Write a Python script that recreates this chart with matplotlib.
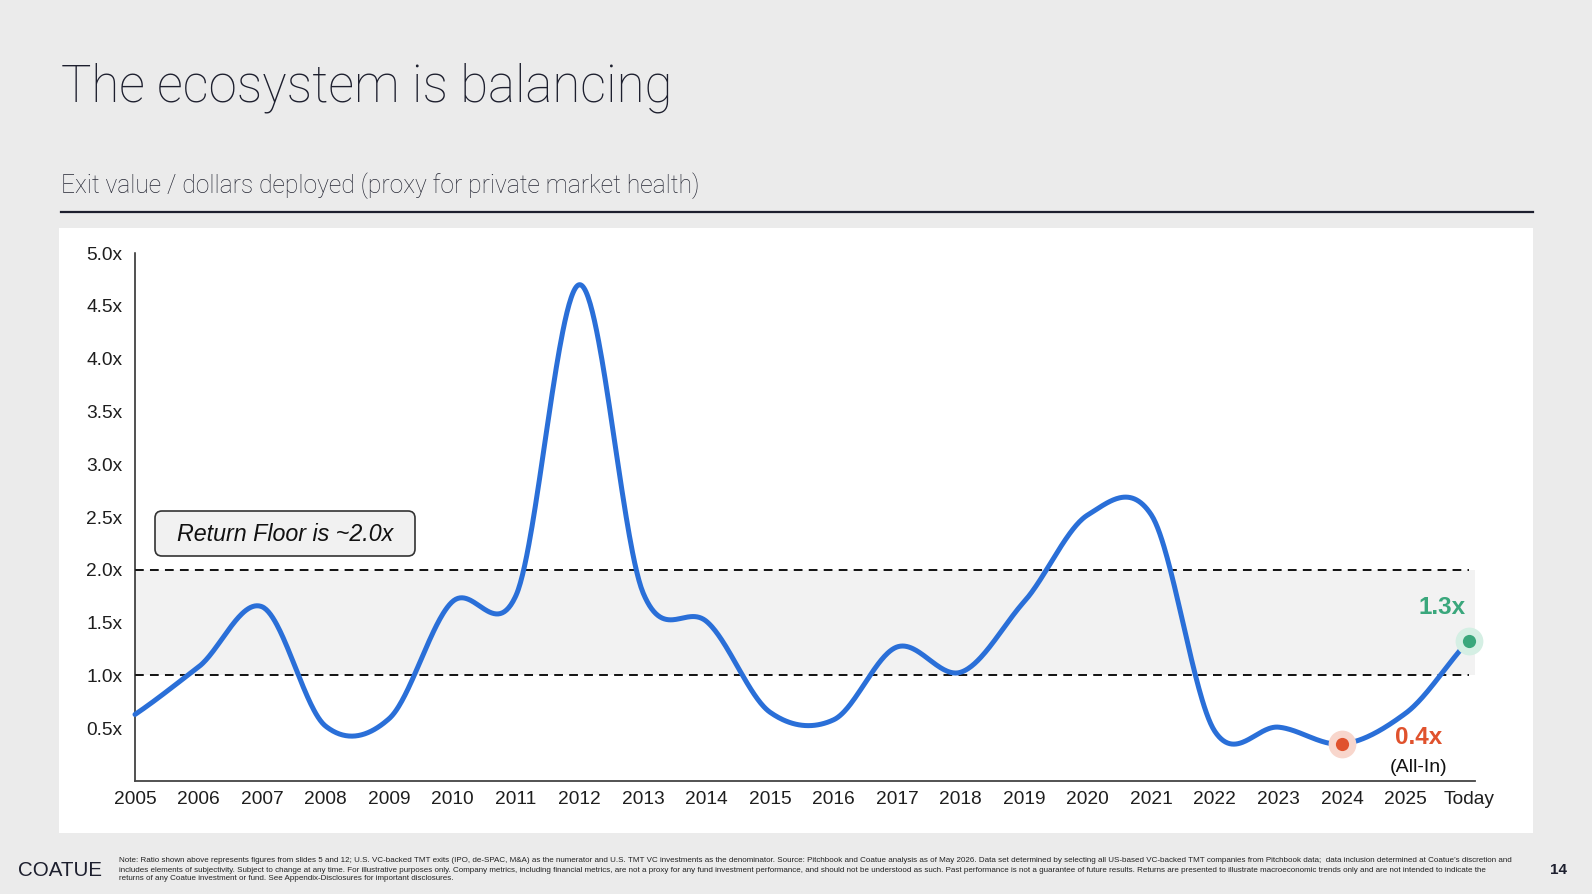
import matplotlib
matplotlib.use("Agg")
import matplotlib.pyplot as plt
import numpy as np
from matplotlib.patches import Rectangle, FancyBboxPatch
from matplotlib.lines import Line2D
from matplotlib.transforms import IdentityTransform
from matplotlib import font_manager as fm

# ---------------- data ----------------
labels = [str(y) for y in range(2005, 2026)] + ["Today"]
values = [0.63, 1.08, 1.65, 0.52, 0.59, 1.70, 1.76, 4.70, 1.78, 1.51, 0.65,
          0.58, 1.27, 1.03, 1.70, 2.52, 2.52, 0.47, 0.51, 0.35, 0.64, 1.33]
yticks = [0.5, 1.0, 1.5, 2.0, 2.5, 3.0, 3.5, 4.0, 4.5, 5.0]
ytick_labels = ["0.5x", "1.0x", "1.5x", "2.0x", "2.5x", "3.0x", "3.5x", "4.0x", "4.5x", "5.0x"]
floor_low, floor_high = 1.0, 2.0
low_idx, low_label = 19, "0.4x"
now_idx, now_label = 21, "1.3x"

W, H = 1592, 894
DPI = 100
BG = "#ebebeb"
BLUE = "#2a6fd8"
RED = "#e0522d"
GREEN = "#3aa77c"
NAVY = "#1d1f2e"

avail = {f.name for f in fm.fontManager.ttflist}
def pick(*names):
    for n in names:
        if n in avail:
            return n
    return "DejaVu Sans"

SANS = pick("Liberation Sans", "Arial", "DejaVu Sans")
TITLEF = pick("Roboto", "Inter", "Liberation Sans")
NARROW = pick("Liberation Sans Narrow", "Liberation Sans")

plt.rcParams["font.family"] = [SANS, "DejaVu Sans"]

fig = plt.figure(figsize=(W / DPI, H / DPI), dpi=DPI, facecolor=BG)
renderer = fig.canvas.get_renderer()

def fx(px):
    return px / W

def fy(py):
    return 1 - py / H

def fit_width(t, target):
    fs = t.get_fontsize()
    for _ in range(3):
        w = t.get_window_extent(renderer=renderer).width
        fs = fs * target / w
        t.set_fontsize(fs)

# white panel
fig.patches.append(Rectangle((fx(59), fy(833)), (1533 - 59) / W, (833 - 228) / H,
                             transform=fig.transFigure, facecolor="white",
                             edgecolor="none", zorder=-5))

# title / subtitle / rule
t = fig.text(fx(61), fy(101.5), "The ecosystem is balancing", fontsize=38,
             family=[TITLEF, "DejaVu Sans"], fontweight="light", color=NAVY,
             ha="left", va="baseline")
fit_width(t, 612)
t = fig.text(fx(61), fy(193), "Exit value / dollars deployed (proxy for private market health)",
             fontsize=17, family=[TITLEF, "DejaVu Sans"], fontweight="light",
             color="#262835", ha="left", va="baseline")
fit_width(t, 638)
fig.add_artist(Line2D([fx(61), fx(1533)], [fy(212), fy(212)], transform=fig.transFigure,
                      color=NAVY, linewidth=1.6))

# ---------------- axes ----------------
x0_px, unit_px = 135, 63.52
ax_bottom_px, ax_top_px = 781, 253
xmax = 21.1
ax = fig.add_axes([fx(x0_px), fy(ax_bottom_px), xmax * unit_px / W,
                   (ax_bottom_px - ax_top_px) / H])
ax.set_zorder(1)
ax.set_facecolor("none")
ax.set_xlim(0, xmax)
ax.set_ylim(0, 5)
for s in ["top", "right"]:
    ax.spines[s].set_visible(False)
ax.spines["left"].set_color("#222222")
ax.spines["bottom"].set_color("#444444")
ax.spines["left"].set_linewidth(1.1)
ax.spines["bottom"].set_linewidth(1.3)

xs = np.arange(len(values))
ax.set_xticks(xs)
ax.set_xticklabels(labels)
ax.set_yticks(yticks)
ax.set_yticklabels(ytick_labels)
ax.tick_params(axis="both", length=0, labelsize=13.8, colors="#1e1e1e")
ax.tick_params(axis="y", pad=9)
ax.tick_params(axis="x", pad=7)

# band and dashed floor lines
ax.fill_between([0, xmax], floor_low, floor_high, color="#f2f2f2", zorder=1, linewidth=0)
for yv in (floor_low, floor_high):
    ax.hlines(yv, 0, 21.0, colors="#111111", linestyles=(0, (4.5, 3.2)),
              linewidth=1.4, zorder=2)

# smoothed line (cardinal spline through yearly points)
def cardinal(xk, yk, k=0.45, n=60):
    yk = np.asarray(yk, float)
    m = np.zeros_like(yk)
    m[1:-1] = k * (yk[2:] - yk[:-2])
    m[0] = 2 * k * (yk[1] - yk[0])
    m[-1] = 2 * k * (yk[-1] - yk[-2])
    X, Y = [], []
    for i in range(len(yk) - 1):
        tt = np.linspace(0, 1, n, endpoint=False)
        h00 = 2 * tt**3 - 3 * tt**2 + 1
        h10 = tt**3 - 2 * tt**2 + tt
        h01 = -2 * tt**3 + 3 * tt**2
        h11 = tt**3 - tt**2
        X.append(xk[i] + tt * (xk[i + 1] - xk[i]))
        Y.append(h00 * yk[i] + h10 * m[i] + h01 * yk[i + 1] + h11 * m[i + 1])
    X.append([xk[-1]])
    Y.append([yk[-1]])
    return np.concatenate(X), np.concatenate(Y)

sx, sy = cardinal(xs, values)
ax.plot(sx, sy, color=BLUE, linewidth=3.6, solid_capstyle="round", zorder=4,
        clip_on=False)

# highlight markers
ax.plot(xs[low_idx], values[low_idx], "o", ms=20, color="#f8d6cc", mec="none", zorder=5,
        clip_on=False)
ax.plot(xs[low_idx], values[low_idx], "o", ms=9.5, color=RED, mec="none", zorder=6,
        clip_on=False)
ax.plot(xs[now_idx], values[now_idx], "o", ms=20, color="#d5efe4", mec="none", zorder=5,
        clip_on=False)
ax.plot(xs[now_idx], values[now_idx], "o", ms=9.5, color=GREEN, mec="none", zorder=6,
        clip_on=False)

ax.text(20.58, 1.64, now_label, color=GREEN, fontsize=17.5, fontweight="bold",
        ha="center", va="center", zorder=7)
ax.text(20.21, 0.41, low_label, color=RED, fontsize=17.5, fontweight="bold",
        ha="center", va="center", zorder=7)
ax.text(20.21, 0.13, "(All-In)", color="#111111", fontsize=14,
        ha="center", va="center", zorder=7)

# Return floor box
bx0, bx1, by0, by1 = 155, 415, 511, 556
fig.patches.append(FancyBboxPatch((bx0, H - by1), bx1 - bx0, by1 - by0,
                                  boxstyle="round,pad=0,rounding_size=7",
                                  transform=IdentityTransform(), facecolor="#f1f1f1",
                                  edgecolor="#333333", linewidth=1.2, zorder=3))
t = fig.text(fx((bx0 + bx1) / 2), fy((by0 + by1) / 2 + 1), "Return Floor is ~2.0x",
             fontsize=15.5, fontstyle="italic", color="#111111", ha="center", va="center",
             zorder=4)
fit_width(t, 216)

# ---------------- footer ----------------
t = fig.text(fx(18), fy(870), "COATUE", fontsize=15, family=[NARROW, SANS], color=NAVY,
             ha="left", va="center")
fit_width(t, 84)

note_lines = [
    "Note: Ratio shown above represents figures from slides 5 and 12; U.S. VC-backed TMT exits (IPO, de-SPAC, M&A) as the numerator and U.S. TMT VC investments as the denominator. Source: Pitchbook and Coatue analysis as of May 2026. Data set determined by selecting all US-based VC-backed TMT companies from Pitchbook data;  data inclusion determined at Coatue\u2019s discretion and",
    "includes elements of subjectivity. Subject to change at any time. For illustrative purposes only. Company metrics, including financial metrics, are not a proxy for any fund investment performance, and should not be understood as such. Past performance is not a guarantee of future results. Returns are presented to illustrate macroeconomic trends only and are not intended to indicate the",
    "returns of any Coatue investment or fund. See Appendix-Disclosures for important disclosures.",
]
t0 = fig.text(fx(119), fy(861), note_lines[0], fontsize=6, family=[NARROW, SANS],
              color="#222222", ha="left", va="center")
fit_width(t0, 1401)
fs_note = t0.get_fontsize()
for i, line in enumerate(note_lines[1:], start=1):
    fig.text(fx(119), fy(861 + 9 * i), line, fontsize=fs_note, family=[NARROW, SANS],
             color="#222222", ha="left", va="center")

fig.text(fx(1567), fy(870), "14", fontsize=11, fontweight="bold", color=NAVY,
         ha="right", va="center")

fig.savefig("out.png", dpi=DPI, facecolor=BG)
